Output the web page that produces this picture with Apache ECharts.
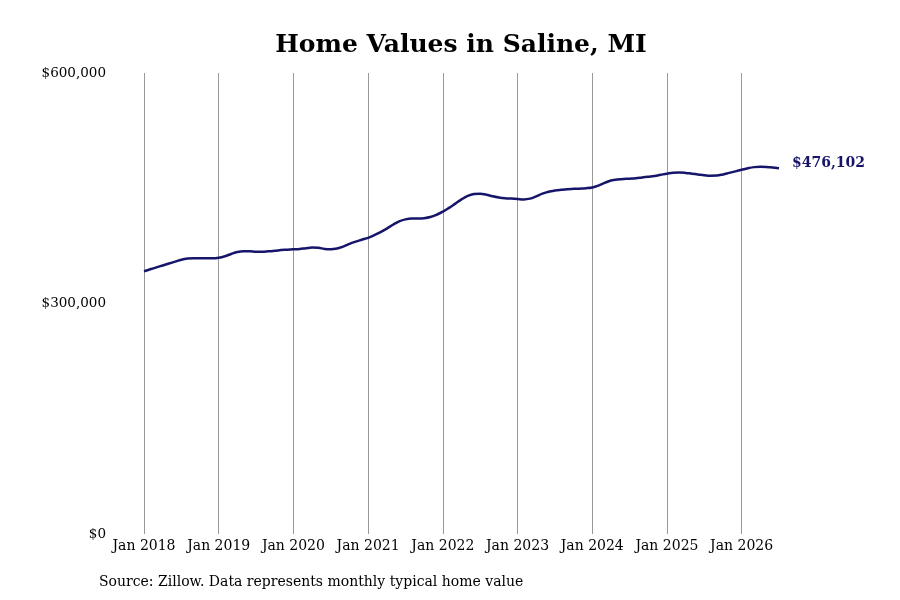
<!DOCTYPE html>
<html>
<head>
<meta charset="utf-8">
<script src="https://cdn.jsdelivr.net/npm/echarts@6/dist/echarts.min.js"></script>
<style>html,body{margin:0;padding:0;background:#fff}#c{width:900px;height:600px}</style>
</head>
<body>
<div id="c"></div>
<script>
const years = [2018, 2019, 2020, 2021, 2022, 2023, 2024, 2025, 2026];
const monthNames = ['Jan','Feb','Mar','Apr','May','Jun','Jul','Aug','Sep','Oct','Nov','Dec'];
const values2018 = [342000,344500,347000,349500,352000,354500,357000,358500,359000,359000,358800,358800];
const values2019 = [359500,361500,364500,367000,368000,368000,367500,367500,368000,368500,369500,370000];
const values2020 = [370500,371000,372000,372800,372500,371000,370500,371500,374000,377500,380500,383000];
const values2021 = [385500,389000,393000,397500,402500,407000,409500,410500,410500,411000,412500,415500];
const values2022 = [419500,424500,430000,435500,440000,442500,443000,441500,439500,438000,437000,436500];
const values2023 = [436000,435500,436500,439500,443000,445500,447000,448000,448800,449200,449500,450000];
const values2024 = [451000,453500,457000,460000,461500,462000,462500,463000,464000,465000,466000,467500];
const values2025 = [469000,470300,470500,470000,469000,468000,467000,466300,466500,468000,470000,472000];
const values2026 = [474000,476000,477500,478000,477800,477000,476102];
const yTicks = [0, 300000, 600000];

const seriesValues = [].concat(values2018, values2019, values2020, values2021, values2022, values2023, values2024, values2025, values2026);
const categories = [];
years.forEach(y => monthNames.forEach(m => { if (categories.length < seriesValues.length) categories.push(m + ' ' + y); }));

const isJan = (i, v) => String(v).indexOf('Jan') === 0;
const fmt = v => '$' + Math.round(v).toLocaleString('en-US');
const FONT = 'DejaVu Serif';

const chart = echarts.init(document.getElementById('c'), null, {renderer: 'canvas'});
chart.setOption({
  animation: false,
  backgroundColor: '#ffffff',
  textStyle: {fontFamily: FONT},
  title: {
    text: 'Home Values in Saline, MI',
    left: 456, top: 28, textAlign: 'center',
    textStyle: {fontFamily: FONT, fontWeight: 'bold', fontSize: 25, color: '#000'}
  },
  graphic: [{
    type: 'text', left: 99, top: 575,
    style: {text: 'Source: Zillow. Data represents monthly typical home value', fontFamily: FONT, fontSize: 14, fill: '#000'}
  }],
  grid: {left: 144, right: 121, top: 73, bottom: 66, containLabel: false},
  xAxis: {
    type: 'category',
    data: categories,
    boundaryGap: false,
    axisLine: {show: false},
    axisTick: {show: false},
    axisLabel: {interval: isJan, fontFamily: FONT, fontSize: 14, color: '#000', margin: 5},
    splitLine: {show: true, interval: isJan, lineStyle: {color: '#999999', width: 1}}
  },
  yAxis: {
    type: 'value',
    min: yTicks[0], max: yTicks[yTicks.length - 1], interval: yTicks[1] - yTicks[0],
    axisLine: {show: false},
    axisTick: {show: false},
    splitLine: {show: false},
    axisLabel: {fontFamily: FONT, fontSize: 13.5, color: '#000', margin: 38, formatter: fmt}
  },
  series: [{
    type: 'line',
    data: seriesValues,
    smooth: 0.4,
    showSymbol: false,
    lineStyle: {color: '#16156a', width: 2.5},
    endLabel: {
      show: true, distance: 13, offset: [0, -5],
      formatter: p => fmt(p.value),
      fontFamily: FONT, fontWeight: 'bold', fontSize: 14, color: '#16156a'
    }
  }]
});
</script>
</body>
</html>
